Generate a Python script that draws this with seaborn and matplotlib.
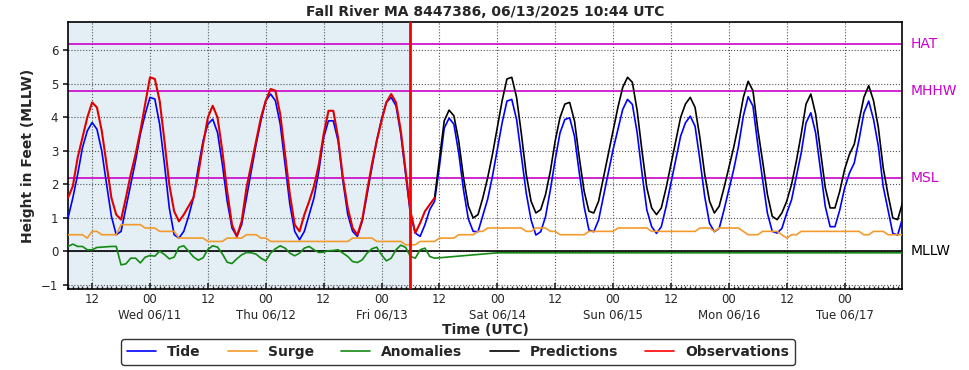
import numpy as np
import pandas as pd
import matplotlib
matplotlib.use("Agg")
import matplotlib.pyplot as plt
import matplotlib.dates as mdates
from matplotlib.lines import Line2D
import seaborn as sns

# Water levels at Fall River MA, hourly, hours counted from 06/10/2025 00:00 UTC
start = pd.Timestamp("2025-06-10 00:00")

obs_hours = list(range(7, 84))
observations = [1.6, 1.95, 2.8, 3.4, 4.0, 4.45, 4.3, 3.6, 2.6, 1.6, 1.1, 0.95, 1.6,
                2.3, 2.9, 3.6, 4.4, 5.2, 5.15, 4.5, 3.3, 2.0, 1.2, 0.9, 1.1, 1.35,
                1.6, 2.3, 3.2, 4.0, 4.35, 4.0, 3.0, 1.8, 0.8, 0.45, 0.9, 1.9, 2.6,
                3.3, 4.0, 4.5, 4.85, 4.8, 4.1, 2.9, 1.7, 0.8, 0.6, 1.1, 1.5, 1.95,
                2.6, 3.5, 4.2, 4.2, 3.4, 2.2, 1.3, 0.7, 0.5, 0.95, 1.8, 2.6, 3.3,
                3.9, 4.45, 4.7, 4.45, 3.6, 2.4, 1.2, 0.55, 0.85, 1.2, 1.4, 1.6]

tide_hours = list(range(7, 181))
tide = [1.0, 1.6, 2.3, 3.1, 3.6, 3.85, 3.65, 3.0, 2.0, 1.05, 0.5, 0.6, 1.3, 2.0,
        2.7, 3.5, 4.1, 4.6, 4.55, 3.8, 2.6, 1.3, 0.5, 0.4, 0.6, 1.05, 1.6, 2.5,
        3.3, 3.8, 3.95, 3.55, 2.6, 1.5, 0.7, 0.45, 0.8, 1.6, 2.4, 3.2, 3.9, 4.5,
        4.7, 4.5, 3.8, 2.6, 1.4, 0.6, 0.35, 0.6, 1.1, 1.6, 2.4, 3.4, 3.9, 3.9,
        3.3, 2.1, 1.1, 0.6, 0.45, 0.9, 1.7, 2.5, 3.3, 3.95, 4.45, 4.6, 4.35, 3.5,
        2.3, 1.1, 0.55, 0.45, 0.8, 1.25, 1.5,
        2.54, 3.68, 3.98, 3.8, 2.94, 1.83, 0.97, 0.6, 0.59, 1.08, 1.56, 2.25,
        3.04, 3.84, 4.49, 4.54, 3.94, 2.84, 1.74, 0.94, 0.49, 0.59, 1.04, 1.84,
        2.74, 3.54, 3.94, 3.99, 3.44, 2.34, 1.34, 0.64, 0.59, 0.94, 1.64, 2.34,
        3.04, 3.64, 4.24, 4.54, 4.39, 3.54, 2.34, 1.24, 0.74, 0.54, 0.74, 1.34,
        2.04, 2.74, 3.44, 3.84, 4.04, 3.74, 2.74, 1.64, 0.84, 0.59, 0.69, 1.24,
        1.84, 2.44, 3.14, 4.04, 4.62, 4.34, 3.19, 2.14, 1.14, 0.6, 0.55, 0.69,
        1.14, 1.54, 2.24, 2.94, 3.84, 4.14, 3.54, 2.44, 1.34, 0.74, 0.74, 1.24,
        1.89, 2.34, 2.64, 3.34, 4.14, 4.49, 3.94, 3.14, 1.94, 1.24, 0.54, 0.49,
        0.99]

pred_hours = list(range(83, 181))
predictions = [1.6, 2.75, 3.9, 4.22, 4.05, 3.3, 2.2, 1.35, 1.0, 1.1, 1.6, 2.2,
               2.9, 3.7, 4.5, 5.15, 5.2, 4.6, 3.5, 2.3, 1.5, 1.15, 1.25, 1.7,
               2.4, 3.3, 4.0, 4.4, 4.45, 3.9, 2.8, 1.8, 1.2, 1.15, 1.5, 2.2,
               2.9, 3.6, 4.3, 4.9, 5.2, 5.05, 4.2, 3.0, 1.9, 1.3, 1.1, 1.3,
               1.9, 2.6, 3.3, 4.0, 4.4, 4.6, 4.3, 3.4, 2.3, 1.5, 1.15, 1.35,
               1.9, 2.5, 3.1, 3.8, 4.6, 5.08, 4.8, 3.65, 2.7, 1.7, 1.05, 0.95,
               1.15, 1.5, 2.0, 2.7, 3.5, 4.4, 4.7, 4.1, 3.0, 1.9, 1.3, 1.3,
               1.8, 2.45, 2.9, 3.2, 3.9, 4.6, 4.95, 4.5, 3.7, 2.5, 1.7, 1.0,
               0.95, 1.45]

surge_hours = list(range(7, 181))
surge = [0.5, 0.5, 0.5, 0.5, 0.4, 0.6, 0.6, 0.5, 0.5, 0.5,   # 7-16
         0.5, 0.8, 0.8, 0.8, 0.8, 0.8, 0.7, 0.7, 0.7, 0.6,   # 17-26
         0.6, 0.6, 0.6, 0.4, 0.4, 0.4, 0.4, 0.4, 0.4, 0.3,   # 27-36
         0.3, 0.3, 0.3, 0.4, 0.4, 0.4, 0.4, 0.5, 0.5, 0.5,   # 37-46
         0.4, 0.4, 0.3, 0.3, 0.3, 0.3, 0.3, 0.3, 0.3, 0.3,   # 47-56
         0.3, 0.3, 0.3, 0.3, 0.3, 0.3, 0.3, 0.3, 0.3, 0.4,   # 57-66
         0.4, 0.4, 0.4, 0.4, 0.3, 0.3, 0.3, 0.3, 0.3, 0.3,   # 67-76
         0.2, 0.2, 0.2, 0.3, 0.3, 0.3, 0.3, 0.4, 0.4, 0.4,   # 77-86
         0.4, 0.5, 0.5, 0.5, 0.5, 0.6, 0.6, 0.7, 0.7, 0.7,   # 87-96
         0.7, 0.7, 0.7, 0.7, 0.7, 0.6, 0.6, 0.7, 0.7, 0.7,   # 97-106
         0.6, 0.6, 0.5, 0.5, 0.5, 0.5, 0.5, 0.5, 0.6, 0.6,   # 107-116
         0.6, 0.6, 0.6, 0.6, 0.7, 0.7, 0.7, 0.7, 0.7, 0.7,   # 117-126
         0.7, 0.6, 0.6, 0.6, 0.6, 0.6, 0.6, 0.6, 0.6, 0.6,   # 127-136
         0.6, 0.7, 0.7, 0.7, 0.6, 0.7, 0.7, 0.7, 0.7, 0.7,   # 137-146
         0.6, 0.5, 0.5, 0.5, 0.6, 0.6, 0.6, 0.6, 0.5, 0.4,   # 147-156
         0.5, 0.5, 0.6, 0.6, 0.6, 0.6, 0.6, 0.6, 0.6, 0.6,   # 157-166
         0.6, 0.6, 0.6, 0.6, 0.6, 0.5, 0.5, 0.6, 0.6, 0.6,   # 167-176
         0.5, 0.5, 0.5, 0.5]                                 # 177-180

anom_hours = list(range(7, 84)) + [96, 180]
anomalies = [0.15, 0.22, 0.15, 0.15, 0.05, 0.05, 0.12, 0.13, 0.14, 0.15, 0.15,
             -0.4, -0.37, -0.2, -0.2, -0.34, -0.17, -0.12, -0.14, 0.01, -0.09,
             -0.22, -0.17, 0.13, 0.17, 0.01, -0.16, -0.26, -0.19, 0.06, 0.17,
             0.13, -0.07, -0.32, -0.36, -0.22, -0.1, -0.03, -0.04, -0.08, -0.2,
             -0.28, -0.05, 0.08, 0.17, 0.1, -0.05, -0.13, -0.05, 0.1, 0.15, 0.05,
             -0.03, -0.02, 0.02, 0.03, 0.05, -0.05, -0.15, -0.3, -0.33, -0.25,
             -0.05, 0.08, 0.13, -0.1, -0.28, -0.2, 0.05, 0.19, 0.12, -0.15, -0.2,
             0.05, 0.1, -0.15, -0.2, -0.04, -0.04]

# datums (ft above MLLW)
datum_names = ["HAT", "MHHW", "MSL", "MLLW"]
datum_values = [6.2, 4.78, 2.2, 0.0]
datum_colors = ["#cc00cc", "#cc00cc", "#cc00cc", "black"]

now_hour = 78


def frame(hours, values):
    return pd.DataFrame({"time": start + pd.to_timedelta(hours, unit="h"),
                         "value": values})


sns.set_theme(style="ticks")
plt.rcParams["font.family"] = ["DejaVu Sans"]

fig = plt.figure(figsize=(9.69, 3.70), dpi=100)
ax = fig.add_axes([68 / 969, 1 - 289 / 370, (902 - 68) / 969, (289 - 22) / 370])

t0 = start + pd.Timedelta(hours=7)
t1 = start + pd.Timedelta(hours=179.9)
tnow = start + pd.Timedelta(hours=now_hour)

ax.axvspan(t0, tnow, color="#e3eef5", zorder=0)
ax.grid(True, which="major", linestyle=":", color="#555555", linewidth=0.8)

for name, val, col in zip(datum_names, datum_values, datum_colors):
    ax.axhline(val, color=col, linewidth=1.2, zorder=2)
    ax.text(1.01, val, name, transform=ax.get_yaxis_transform(), color=col,
            fontsize=10, va="center", ha="left")

sns.lineplot(data=frame(tide_hours, tide), x="time", y="value", ax=ax,
             color="#0000ff", linewidth=1.2, zorder=3)
sns.lineplot(data=frame(surge_hours, surge), x="time", y="value", ax=ax,
             color="#f39a2c", linewidth=1.2, zorder=3)
sns.lineplot(data=frame(anom_hours, anomalies), x="time", y="value", ax=ax,
             color="#138a13", linewidth=1.2, zorder=3)
sns.lineplot(data=frame(pred_hours, predictions), x="time", y="value", ax=ax,
             color="black", linewidth=1.2, zorder=4)
sns.lineplot(data=frame(obs_hours, observations), x="time", y="value", ax=ax,
             color="#e00000", linewidth=1.5, zorder=5)

ax.axvline(tnow, color="#ff0000", linewidth=2, zorder=6)

ax.set_xlim(t0, t1)
ax.set_ylim(-1.12, 6.85)
ax.set_yticks(range(-1, 7))

ax.xaxis.set_major_locator(mdates.HourLocator(byhour=[0, 12]))
ax.xaxis.set_minor_locator(mdates.HourLocator())


def fmt(x, pos):
    d = mdates.num2date(x)
    if d.hour == 0:
        return "00\n" + d.strftime("%a %m/%d")
    return d.strftime("%H")


ax.xaxis.set_major_formatter(plt.FuncFormatter(fmt))
ax.tick_params(axis="x", which="major", direction="in", length=4, labelsize=8.5, pad=3)
ax.tick_params(axis="x", which="minor", direction="in", length=2.5)
ax.tick_params(axis="y", which="major", direction="out", length=3.5, labelsize=8.5)
for s in ax.spines.values():
    s.set_linewidth(1.2)
    s.set_color("black")

ax.set_xlabel("Time (UTC)", fontsize=10, fontweight="bold", labelpad=1)
ax.set_ylabel("Height in Feet (MLLW)", fontsize=10, fontweight="bold")
ax.set_title("Fall River MA 8447386, 06/13/2025 10:44 UTC", fontsize=10,
             fontweight="bold", pad=4)

handles = [Line2D([], [], color="#0000ff", lw=1.2),
           Line2D([], [], color="#f39a2c", lw=1.2),
           Line2D([], [], color="#138a13", lw=1.2),
           Line2D([], [], color="black", lw=1.2),
           Line2D([], [], color="#ff0000", lw=1.2)]
labels = ["Tide", "Surge", "Anomalies", "Predictions", "Observations"]
leg = fig.legend(handles, labels, loc="center", ncol=5,
                 bbox_to_anchor=(458 / 969, 1 - 352 / 370),
                 prop={"weight": "bold", "size": 10}, handlelength=2.1,
                 columnspacing=1.95, frameon=True, fancybox=True,
                 borderpad=0.4, handletextpad=0.8)
leg.get_frame().set_edgecolor("black")
leg.get_frame().set_linewidth(1.0)

fig.savefig("out.png", dpi=100)
